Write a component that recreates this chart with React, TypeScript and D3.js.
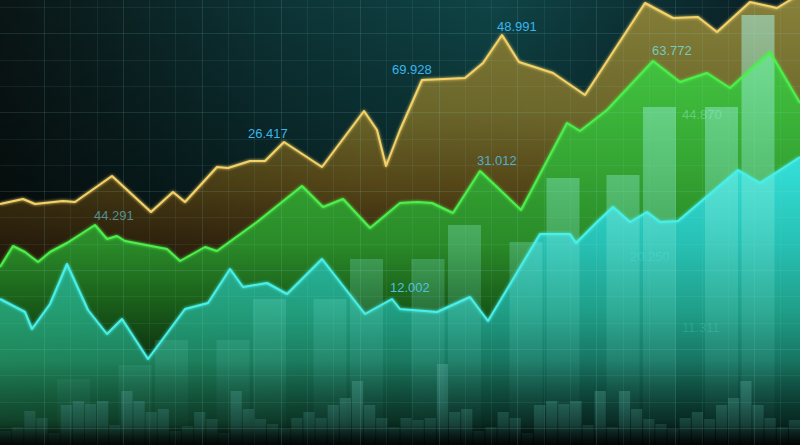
import React from "react";
import * as d3 from "d3";

// time (t) 0..160, value (v) 0..89
const yellowSeries: [number, number][] = [
  [0, 48.2], [4.6, 49.2], [7, 48.2], [12.6, 48.8], [15, 48.6], [22.4, 53.8], [30.2, 46.6],
  [34.6, 50.6], [37, 48.6], [43.4, 55.6], [45.6, 55.4], [50, 56.8], [53, 56.8], [56.8, 60.6],
  [64.4, 55.6], [72.8, 66.8], [75.4, 63], [77.2, 55.8], [80, 63], [84.4, 73], [93, 73.4],
  [96.6, 76.4], [100.4, 82], [103.8, 76.6], [110.6, 74.4], [117, 70], [129, 88.4],
  [134.6, 85.4], [139.6, 85.6], [143.4, 82.6], [150, 88.6], [155.4, 87.4], [160, 90.2],
];

const greenSeries: [number, number][] = [
  [0, 35.6], [2.6, 39.8], [5, 38.6], [7.6, 36.6], [10, 38.6], [13.4, 40.4], [19, 44],
  [21.4, 41.2], [23.4, 41.8], [25, 40.8], [33.4, 39.2], [36, 36.8], [41, 39.6], [43.4, 38.8],
  [51.4, 44.6], [60.4, 51.8], [64.6, 47.6], [68.6, 49.2], [74, 43.4], [77.6, 46.4], [80, 48.4],
  [83.4, 48.6], [86.4, 48.4], [90.6, 46.4], [96, 54.8], [99.4, 51.6], [104.2, 47],
  [113.4, 64.4], [116, 62.8], [121.4, 67], [130.6, 76.8], [136, 72.6], [141.4, 74.4],
  [146, 71.4], [154, 78.6], [160, 68.4],
];

const cyanSeries: [number, number][] = [
  [0, 29.2], [5, 26.6], [6.4, 23.2], [10, 28.2], [13.4, 36.2], [17.6, 27], [21.4, 22.2],
  [24.4, 25.2], [29.6, 17.2], [37, 27.2], [41.6, 28.4], [46, 35.2], [48.6, 31.6], [53.4, 32.4],
  [57.4, 30.2], [64.4, 37.2], [73, 26.2], [78.4, 29.2], [80, 27.2], [87.4, 26.6], [94, 29.6],
  [97.6, 24.8], [108, 42.2], [114, 42.2], [115.2, 40.4], [119.4, 44.6], [122.6, 47.6],
  [126, 44.6], [129.4, 46.6], [132, 44.6], [135.6, 44.8], [147.6, 55], [152, 52.4], [160, 57.6],
];

// tall translucent bars: [centre time, value]
const tallBars: [number, number][] = [
  [14.7, 13.2], [27, 16], [34.3, 21], [46.6, 21], [53.9, 29.2], [66, 29.2], [73.3, 37.2],
  [85.6, 37.2], [92.9, 44], [105.2, 40.6], [112.6, 53.4], [124.6, 54], [131.9, 67.6],
  [144.3, 67.6], [151.6, 86],
];

// volume bars
const volumes: number[] = [
  14, 18, 34, 27, 12, 40, 44, 41, 44, 20, 54, 44, 33, 36, 14, 19, 33, 26, 12, 54, 36, 26, 21,
  16, 27, 33, 27, 40, 47, 64, 40, 27, 18,
  27, 25, 27, 81, 33, 36, 14, 18, 33, 27, 12, 40, 44, 41, 44, 20, 54, 18, 54, 36, 26, 21, 16,
  27, 33, 26, 40, 47, 64, 40, 27, 18, 25,
];

const labelTexts = ["26.417", "69.928", "48.991", "44.291", "31.012", "63.772", "44.870", "12.002", "20.250", "11.311"];
const labelT = [49.6, 78.4, 99.4, 18.8, 95.4, 130.4, 136.4, 78, 126, 136.4];
const labelV = [61.4, 74.2, 82.8, 45, 56, 78, 65.2, 30.6, 36.8, 22.6];
const labelColors = ["#3ab4ec", "#3ab4ec", "#3ab4ec", "#5a9ea0", "#52b4dc", "#72d2c8", "#90f0c8", "#52c8e6", "#50e8e8", "#60e0e0"];
const labelOpacity = [1, 1, 1, 0.9, 0.95, 0.95, 0.45, 0.95, 0.3, 0.22];

const W = 800;
const H = 445;

export default function App() {
  const x = d3.scaleLinear().domain([0, 160]).range([0, W]);
  const y = d3.scaleLinear().domain([0, 89]).range([H, 0]);
  const yVol = d3.scaleLinear().domain([0, 100]).range([H, H - 100]);
  const volX = d3.scaleBand<number>().domain(d3.range(volumes.length)).range([0, W]).paddingInner(0.08);

  const area = d3
    .area<[number, number]>()
    .x((d) => x(d[0]))
    .y0(H)
    .y1((d) => y(d[1]));
  const line = d3
    .line<[number, number]>()
    .x((d) => x(d[0]))
    .y((d) => y(d[1]));

  const gridT = d3.range(8.8, 160, 5.26);
  const gridV = d3.range(87.6, 0, -5.26);
  const barW = 6.6;

  return (
    <svg
      width={W}
      height={H}
      style={{ position: "absolute", left: 0, top: 0, display: "block" }}
      xmlns="http://www.w3.org/2000/svg"
    >
      <defs>
        <linearGradient id="bgH" x1="0" y1="0" x2="1" y2="0">
          <stop offset="0" stopColor="#0a1515" />
          <stop offset="0.35" stopColor="#0d3436" />
          <stop offset="0.62" stopColor="#0f4446" />
          <stop offset="1" stopColor="#0a1c22" />
        </linearGradient>
        <linearGradient id="bgV" gradientUnits="userSpaceOnUse" x1="0" y1="0" x2="0" y2={H}>
          <stop offset="0" stopColor="#000" stopOpacity="0" />
          <stop offset="0.5" stopColor="#000" stopOpacity="0.45" />
          <stop offset="1" stopColor="#000" stopOpacity="0.8" />
        </linearGradient>
        <linearGradient id="yellowFill" gradientUnits="userSpaceOnUse" x1="0" y1="0" x2="0" y2={H}>
          <stop offset="0" stopColor="#87803a" />
          <stop offset="0.25" stopColor="#6f6a2c" />
          <stop offset="0.42" stopColor="#574818" />
          <stop offset="0.55" stopColor="#3a2a10" />
          <stop offset="1" stopColor="#1a1208" />
        </linearGradient>
        <linearGradient id="yellowShade" x1="0" y1="0" x2="1" y2="0">
          <stop offset="0" stopColor="#000" stopOpacity="0.35" />
          <stop offset="0.45" stopColor="#000" stopOpacity="0.05" />
          <stop offset="1" stopColor="#000" stopOpacity="0" />
        </linearGradient>
        <linearGradient id="greenFill" gradientUnits="userSpaceOnUse" x1="0" y1="0" x2="0" y2={H}>
          <stop offset="0.1" stopColor="#44c640" />
          <stop offset="0.35" stopColor="#36a834" />
          <stop offset="0.55" stopColor="#2a8a28" />
          <stop offset="0.68" stopColor="#1a5e1a" />
          <stop offset="0.8" stopColor="#0e3410" />
          <stop offset="1" stopColor="#081a08" />
        </linearGradient>
        <linearGradient id="cyanFill" gradientUnits="userSpaceOnUse" x1="0" y1="0" x2="0" y2={H}>
          <stop offset="0.38" stopColor="#32dcd4" />
          <stop offset="0.55" stopColor="#27c0b4" />
          <stop offset="0.7" stopColor="#1f9e88" />
          <stop offset="0.84" stopColor="#156a58" />
          <stop offset="1" stopColor="#072a22" />
        </linearGradient>
        <linearGradient id="cyanTint" x1="0" y1="0" x2="1" y2="0">
          <stop offset="0" stopColor="#2a9a50" stopOpacity="0.45" />
          <stop offset="0.45" stopColor="#2a9a50" stopOpacity="0.15" />
          <stop offset="0.7" stopColor="#2a9a50" stopOpacity="0" />
        </linearGradient>
        <linearGradient id="barFill" gradientUnits="userSpaceOnUse" x1="0" y1="0" x2="0" y2={H}>
          <stop offset="0" stopColor="#a8f4e8" stopOpacity="0.55" />
          <stop offset="0.45" stopColor="#8ef0dc" stopOpacity="0.34" />
          <stop offset="0.75" stopColor="#70e0cc" stopOpacity="0.15" />
          <stop offset="1" stopColor="#60d0c0" stopOpacity="0.02" />
        </linearGradient>
        <linearGradient id="volFill" gradientUnits="userSpaceOnUse" x1="0" y1={H - 90} x2="0" y2={H}>
          <stop offset="0" stopColor="#4fa898" stopOpacity="0.55" />
          <stop offset="0.5" stopColor="#3a8478" stopOpacity="0.5" />
          <stop offset="1" stopColor="#1c4640" stopOpacity="0.35" />
        </linearGradient>
        <linearGradient id="bottomShade" gradientUnits="userSpaceOnUse" x1="0" y1="360" x2="0" y2={H}>
          <stop offset="0" stopColor="#000" stopOpacity="0" />
          <stop offset="0.7" stopColor="#000" stopOpacity="0.35" />
          <stop offset="1" stopColor="#000" stopOpacity="0.7" />
        </linearGradient>
        <linearGradient id="edgeShade" gradientUnits="userSpaceOnUse" x1="0" y1="425" x2="0" y2={H}>
          <stop offset="0" stopColor="#000" stopOpacity="0" />
          <stop offset="1" stopColor="#000" stopOpacity="0.8" />
        </linearGradient>
        <filter id="glow" x="-5%" y="-20%" width="110%" height="140%">
          <feGaussianBlur stdDeviation="1.8" result="b" />
          <feMerge>
            <feMergeNode in="b" />
            <feMergeNode in="SourceGraphic" />
          </feMerge>
        </filter>
      </defs>

      <rect x={0} y={0} width={W} height={H} fill="url(#bgH)" />
      <rect x={0} y={0} width={W} height={H} fill="url(#bgV)" />

      <path d={area(yellowSeries) ?? ""} fill="url(#yellowFill)" />
      <path d={area(yellowSeries) ?? ""} fill="url(#yellowShade)" />
      <path d={area(greenSeries) ?? ""} fill="url(#greenFill)" />
      <path d={area(cyanSeries) ?? ""} fill="url(#cyanFill)" />
      <path d={area(cyanSeries) ?? ""} fill="url(#cyanTint)" />

      {tallBars.map(([t, v], i) => (
        <rect
          key={"tb" + i}
          x={x(t - barW / 2)}
          y={y(v)}
          width={x(barW) - x(0)}
          height={H - y(v)}
          fill="url(#barFill)"
        />
      ))}

      <rect x={0} y={360} width={W} height={H - 360} fill="url(#bottomShade)" />

      {volumes.map((v, i) => (
        <rect
          key={"vb" + i}
          x={volX(i)}
          y={yVol(v)}
          width={volX.bandwidth()}
          height={H - yVol(v)}
          fill="url(#volFill)"
        />
      ))}

      <rect x={0} y={425} width={W} height={H - 425} fill="url(#edgeShade)" />

      <g stroke="#8fe0dc" strokeWidth={1}>
        {gridT.map((t, i) => (
          <line
            key={"gx" + i}
            x1={Math.round(x(t)) + 0.5}
            x2={Math.round(x(t)) + 0.5}
            y1={0}
            y2={H}
            strokeOpacity={i % 3 === 0 ? 0.13 : 0.08}
          />
        ))}
        {gridV.map((v, i) => (
          <line
            key={"gy" + i}
            x1={0}
            x2={W}
            y1={Math.round(y(v)) + 0.5}
            y2={Math.round(y(v)) + 0.5}
            strokeOpacity={i % 3 === 1 ? 0.13 : 0.08}
          />
        ))}
      </g>

      <g fill="none" strokeLinejoin="round" filter="url(#glow)">
        <path d={line(yellowSeries) ?? ""} stroke="#f4d268" strokeWidth={2} />
        <path d={line(greenSeries) ?? ""} stroke="#4cf04c" strokeWidth={2} />
        <path d={line(cyanSeries) ?? ""} stroke="#48f0ea" strokeWidth={2} />
      </g>

      <g fontFamily="'Liberation Sans', Arial, sans-serif" fontSize={13}>
        {labelTexts.map((txt, i) => (
          <text
            key={"lb" + i}
            x={x(labelT[i])}
            y={y(labelV[i])}
            fill={labelColors[i]}
            fillOpacity={labelOpacity[i]}
          >
            {txt}
          </text>
        ))}
      </g>
    </svg>
  );
}
